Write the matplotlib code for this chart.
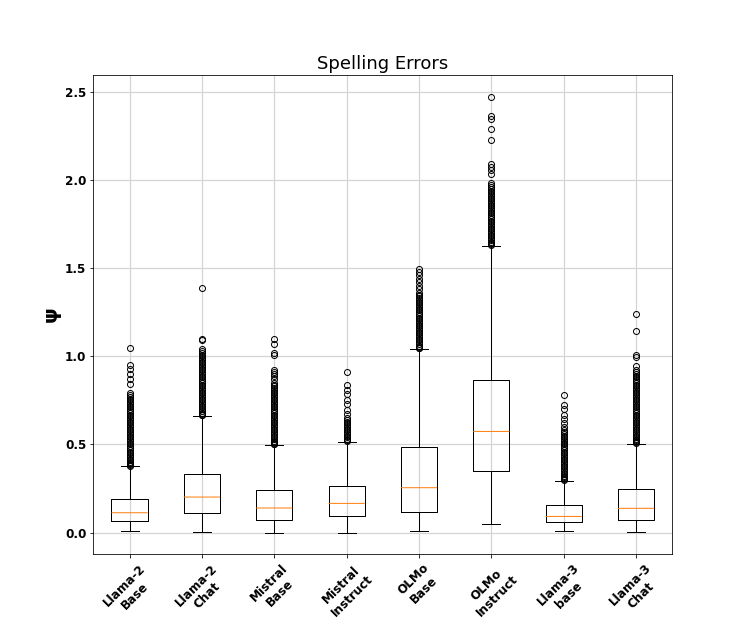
import numpy as np
import matplotlib
matplotlib.use('Agg')
import matplotlib.pyplot as plt

# Box-plot summary values
models = ['Llama-2\nBase', 'Llama-2\nChat', 'Mistral\nBase', 'Mistral\nInstruct',
          'OLMo\nBase', 'OLMo\nInstruct', 'Llama-3\nbase', 'Llama-3\nChat']
whislo = [0.009, 0.004, 0.000, 0.000, 0.007, 0.049, 0.009, 0.004]
q1 = [0.064, 0.111, 0.074, 0.096, 0.117, 0.351, 0.058, 0.074]
median = [0.113, 0.202, 0.140, 0.166, 0.255, 0.574, 0.092, 0.138]
q3 = [0.190, 0.332, 0.244, 0.264, 0.487, 0.863, 0.155, 0.247]
whishi = [0.378, 0.663, 0.497, 0.516, 1.043, 1.627, 0.295, 0.504]

# Outliers (dense runs written out point by point)
fliers_llama2_base = [
    0.38, 0.385, 0.39, 0.395, 0.40, 0.41, 0.42, 0.43, 0.44, 0.45, 0.46, 0.47, 0.48,
    0.49, 0.50, 0.51, 0.52, 0.53, 0.54, 0.55, 0.56, 0.57, 0.58, 0.59, 0.60, 0.61,
    0.62, 0.63, 0.64, 0.65, 0.66, 0.67, 0.68, 0.69, 0.70, 0.71, 0.72, 0.73, 0.74,
    0.75, 0.76, 0.77, 0.78, 0.79, 0.845, 0.87, 0.90, 0.93, 0.95, 1.05]
fliers_llama2_chat = [
    0.665, 0.67, 0.675, 0.68, 0.69, 0.70, 0.71, 0.72, 0.73, 0.74, 0.75, 0.76, 0.77,
    0.78, 0.79, 0.80, 0.81, 0.82, 0.83, 0.84, 0.85, 0.86, 0.87, 0.88, 0.89, 0.90,
    0.91, 0.92, 0.93, 0.94, 0.95, 0.96, 0.97, 0.98, 0.99, 1.00, 1.01, 1.02, 1.03,
    1.04, 1.09, 1.10, 1.39]
fliers_mistral_base = [
    0.50, 0.505, 0.51, 0.515, 0.52, 0.53, 0.54, 0.55, 0.56, 0.57, 0.58, 0.59, 0.60,
    0.61, 0.62, 0.63, 0.64, 0.65, 0.66, 0.67, 0.68, 0.69, 0.70, 0.71, 0.72, 0.73,
    0.74, 0.75, 0.76, 0.77, 0.78, 0.79, 0.80, 0.81, 0.82, 0.83, 0.84, 0.85, 0.87,
    0.89, 0.90, 0.91, 0.92, 1.005, 1.02, 1.07, 1.10]
fliers_mistral_instruct = [
    0.52, 0.525, 0.53, 0.54, 0.55, 0.56, 0.57, 0.58, 0.59, 0.60, 0.61, 0.62, 0.63,
    0.64, 0.65, 0.675, 0.693, 0.731, 0.75, 0.788, 0.807, 0.835, 0.909]
fliers_olmo_base = [
    1.045, 1.05, 1.055, 1.06, 1.07, 1.08, 1.09, 1.10, 1.11, 1.12, 1.13, 1.14, 1.15,
    1.16, 1.17, 1.18, 1.19, 1.20, 1.21, 1.22, 1.23, 1.24, 1.25, 1.26, 1.27, 1.28,
    1.29, 1.30, 1.31, 1.32, 1.33, 1.34, 1.35, 1.36, 1.38, 1.40, 1.42, 1.44, 1.46,
    1.48, 1.495]
fliers_olmo_instruct = [
    1.63, 1.635, 1.64, 1.65, 1.66, 1.67, 1.68, 1.69, 1.70, 1.71, 1.72, 1.73, 1.74,
    1.75, 1.76, 1.77, 1.78, 1.79, 1.80, 1.81, 1.82, 1.83, 1.84, 1.85, 1.86, 1.87,
    1.88, 1.89, 1.90, 1.91, 1.92, 1.93, 1.94, 1.95, 1.96, 1.97, 1.985, 2.035, 2.054,
    2.073, 2.088, 2.228, 2.288, 2.345, 2.36, 2.473]
fliers_llama3_base = [
    0.30, 0.305, 0.31, 0.315, 0.32, 0.33, 0.34, 0.35, 0.36, 0.37, 0.38, 0.39, 0.40,
    0.41, 0.42, 0.43, 0.44, 0.45, 0.46, 0.47, 0.48, 0.49, 0.50, 0.51, 0.52, 0.53,
    0.54, 0.55, 0.56, 0.57, 0.58, 0.60, 0.62, 0.646, 0.665, 0.703, 0.722, 0.778]
fliers_llama3_chat = [
    0.51, 0.515, 0.52, 0.525, 0.53, 0.54, 0.55, 0.56, 0.57, 0.58, 0.59, 0.60, 0.61,
    0.62, 0.63, 0.64, 0.65, 0.66, 0.67, 0.68, 0.69, 0.70, 0.71, 0.72, 0.73, 0.74,
    0.75, 0.76, 0.77, 0.78, 0.79, 0.80, 0.81, 0.82, 0.83, 0.84, 0.85, 0.86, 0.87,
    0.88, 0.89, 0.90, 0.91, 0.92, 0.943, 0.995, 1.009, 1.141, 1.238]
fliers = [fliers_llama2_base, fliers_llama2_chat, fliers_mistral_base,
          fliers_mistral_instruct, fliers_olmo_base, fliers_olmo_instruct,
          fliers_llama3_base, fliers_llama3_chat]


def build_stats():
    stats = []
    for i, name in enumerate(models):
        stats.append({'label': name, 'whislo': whislo[i], 'q1': q1[i],
                      'med': median[i], 'q3': q3[i], 'whishi': whishi[i],
                      'fliers': np.array(fliers[i])})
    return stats


def main():
    fig, ax = plt.subplots(figsize=(747 / 72, 623 / 72), dpi=72)
    ax.bxp(build_stats(), showfliers=True,
           medianprops=dict(color='#ff7f0e', linewidth=1.0, snap=False))
    ax.set_title('Spelling Errors', fontsize=18)
    ax.set_ylabel('ψ', fontsize=20, fontweight='bold')
    ax.set_xticklabels(models, rotation=45, fontsize=12, fontweight='bold')
    for lbl in ax.get_yticklabels():
        lbl.set_fontsize(12)
        lbl.set_fontweight('bold')
    ax.grid(True, color='#d3d3d3', linewidth=1.2)
    fig.savefig('out.png', dpi=72)


if __name__ == '__main__':
    main()
